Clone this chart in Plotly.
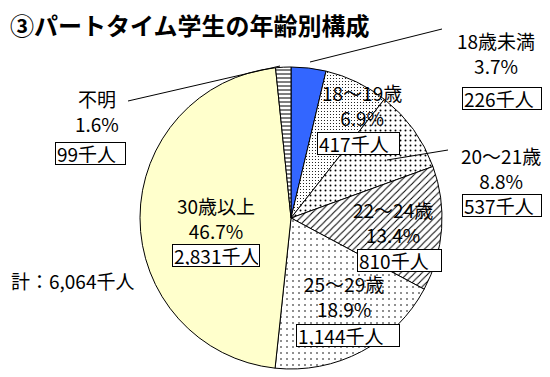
import plotly.graph_objects as go

# page body has an 8px margin, so the figure is made 8px smaller and
# reference window coordinates are converted to figure coordinates
OFF = 8
W, H = 550 - OFF, 377 - OFF

categories = ["18歳未満", "18～19歳", "20～21歳", "22～24歳", "25～29歳", "30歳以上", "不明"]
values_k = [226, 417, 537, 810, 1144, 2831, 99]
percents = ["3.7%", "6.9%", "8.8%", "13.4%", "18.9%", "46.7%", "1.6%"]
value_labels = ["226千人", "417千人", "537千人", "810千人", "1,144千人", "2,831千人", "99千人"]
total_label = "計：6,064千人"
title_text = "③パートタイム学生の年齢別構成"

FONT = "Noto Sans CJK JP"

fills = ["#3366FF", "white", "white", "white", "white", "#FFFFCC", "white"]
patterns = dict(
    shape=["", ".", ".", "/", ".", "", "-"],
    size=[4, 3, 5, 5, 6, 4, 4],
    solidity=[0.2, 0.12, 0.12, 0.2, 0.06, 0.2, 0.25],
    fgcolor="black",
    fillmode="replace",
)


def px(x):
    return (x - OFF) / W


def py(y):
    return 1 - (y - OFF) / H


# pie geometry in reference pixels (center, radius)
cx, cy, r = 291, 218, 151

fig = go.Figure(go.Pie(
    labels=categories,
    values=values_k,
    sort=False,
    direction="clockwise",
    rotation=0,
    textinfo="none",
    hoverinfo="label+value",
    marker=dict(colors=fills, line=dict(color="black", width=1), pattern=patterns),
    domain=dict(x=[px(cx - r), px(cx + r)], y=[py(cy + r), py(cy - r)]),
    showlegend=False,
))

annotations = []


def text(x, y, s, size=19, anchor="center"):
    annotations.append(dict(x=px(x), y=py(y), xref="paper", yref="paper", text=s,
                            showarrow=False, xanchor=anchor, yanchor="middle", align="center",
                            font=dict(family=FONT, size=size, color="black")))


def box(x0, x1, y, s):
    annotations.append(dict(x=px(x0), y=py(y), xref="paper", yref="paper", text=s,
                            showarrow=False, xanchor="left", yanchor="middle",
                            width=x1 - x0 - 4, height=19, align="left", valign="middle",
                            bordercolor="black", borderwidth=1, borderpad=1, bgcolor="white",
                            font=dict(family=FONT, size=19, color="black")))


# label block center, box for each slice
pos = [
    (496, 53, 462, 542, 98),
    (362, 105, 317, 400, 143),
    (501, 168, 462, 542, 205),
    (393, 222, 357, 442, 260),
    (344, 296, 296, 400, 335),
    (216, 218, 172, 260, 255),
    (97, 111, 55, 126, 153),
]
for i, (lx, ly, bx0, bx1, by) in enumerate(pos):
    text(lx, ly, categories[i] + "<br>" + percents[i])
    box(bx0, bx1, by, value_labels[i])

text(9, 280, total_label, anchor="left")

annotations.append(dict(x=px(8), y=1 + 3 / H, xref="paper", yref="paper", text="<b>" + title_text + "</b>",
                        showarrow=False, xanchor="left", yanchor="top",
                        font=dict(family=FONT, size=24, color="black")))

shapes = []
for (x0, y0, x1, y1) in [(310, 62, 442, 29), (128, 101, 280, 66), (387, 160, 448, 150)]:
    shapes.append(dict(type="line", xref="paper", yref="paper", x0=px(x0), y0=py(y0), x1=px(x1), y1=py(y1),
                       line=dict(color="black", width=1)))

fig.update_layout(
    width=W, height=H,
    margin=dict(l=0, r=0, t=0, b=0),
    paper_bgcolor="white",
    plot_bgcolor="white",
    annotations=annotations,
    shapes=shapes,
)

fig.write_html("out.html")
